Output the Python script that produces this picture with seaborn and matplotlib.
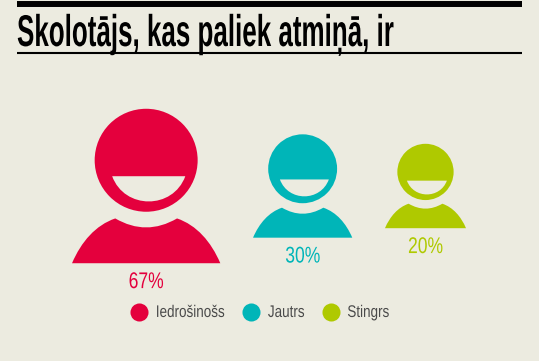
import numpy as np
import pandas as pd
import matplotlib.pyplot as plt
import seaborn as sns
from matplotlib.lines import Line2D
from matplotlib.path import Path
from matplotlib.patheffects import AbstractPathEffect
from matplotlib.transforms import Affine2D

categories = ['Iedrošinošs', 'Jautrs', 'Stingrs']
values = [67, 30, 20]
colors = ['#e4003d', '#00b5b8', '#afc900']
title_text = 'Skolotājs, kas paliek atmiņā, ir'

BG = '#ecebe0'
FONT = 'Liberation Sans'


# no condensed font installed, so set the text small and stretch the glyphs upwards
class Stretch(AbstractPathEffect):
    def __init__(self, y0, fy):
        super().__init__()
        self.y0 = y0
        self.fy = fy

    def draw_path(self, renderer, gc, tpath, affine, rgbFace=None):
        st = Affine2D().translate(0, -self.y0).scale(1, self.fy).translate(0, self.y0)
        renderer.draw_path(gc, tpath, affine + st, rgbFace)


def stretch_centered(text, fy):
    box = text.get_window_extent()
    text.set_path_effects([Stretch((box.y0 + box.y1) / 2, fy)])


# person glyph, head radius = 1, origin in the middle of the figure
head = Path.circle((0, 0.5), 1)
smile = Path([(0.76, 0.19), (0.52, -0.463), (-0.42, -0.463), (-0.66, 0.19), (0.76, 0.19)],
             [Path.MOVETO, Path.CURVE4, Path.CURVE4, Path.CURVE4, Path.CLOSEPOLY])
body = Path([(-1.44, -1.5), (-1.26, -1.08), (-0.98, -0.76), (-0.6, -0.63),
             (0, -0.98), (0.6, -0.63),
             (0.98, -0.76), (1.26, -1.08), (1.44, -1.5), (-1.44, -1.5)],
            [Path.MOVETO, Path.CURVE4, Path.CURVE4, Path.CURVE4,
             Path.CURVE3, Path.CURVE3,
             Path.CURVE4, Path.CURVE4, Path.CURVE4, Path.CLOSEPOLY])
person = Path.make_compound_path(head, smile, body)

sns.set_theme(style='white')
plt.rcParams['font.family'] = [FONT, 'DejaVu Sans']

# figure area goes with the value, people are packed left to right with a fixed gap
k = 184.6
radius = 51.5 * np.sqrt(np.array(values) / max(values))
half_w = 1.44 * radius
gap = 32.7
x = 72 + half_w + np.concatenate([[0], np.cumsum(2 * half_w[:-1] + gap)])
mid_y = 186

df = pd.DataFrame({'category': categories, 'value': values, 'x': x, 'y': mid_y})

fig = plt.figure(figsize=(5.39, 3.61), dpi=100, facecolor=BG)
ax = fig.add_axes([0, 0, 1, 1])
ax.set_xlim(0, 539)
ax.set_ylim(361, 0)
ax.axis('off')

sns.scatterplot(data=df, x='x', y='y', hue='category', palette=colors, size='value',
                sizes=(min(values) * k, max(values) * k), size_norm=(min(values), max(values)),
                marker=person, linewidth=0, edgecolor='none', legend=False, ax=ax)

labels = []
for xi, r, v, c in zip(x, radius, values, colors):
    labels.append(ax.text(xi, mid_y + 1.5 * r + 19, f'{v}%', color=c, fontsize=12.6, ha='center', va='center'))

# title + rules
ax.hlines([4, 52.5], 17, 522, color='black', linewidth=[4.3, 1.5])
title = ax.text(17, 46, title_text, fontsize=20, fontweight='bold', color='black', ha='left', va='baseline')
fig.canvas.draw()
title.set_fontsize(20 * 376 / title.get_window_extent().width)
title.set_path_effects([Stretch(361 - 46, 32 / title.get_fontsize())])

handles = [Line2D([], [], linestyle='none', marker='o', markersize=13, color=c, markeredgewidth=0) for c in colors]
leg = ax.legend(handles, categories, loc='center', bbox_to_anchor=(259.5 / 539, 1 - 313 / 361), ncol=3,
                frameon=False, fontsize=9.7, labelcolor='#4a4a4a', handlelength=1.4,
                handletextpad=0.55, columnspacing=1.22)

fig.canvas.draw()
for t in labels:
    stretch_centered(t, 1.3)
for t in leg.get_texts():
    stretch_centered(t, 1.25)

fig.savefig('out.png', dpi=100, facecolor=BG)
